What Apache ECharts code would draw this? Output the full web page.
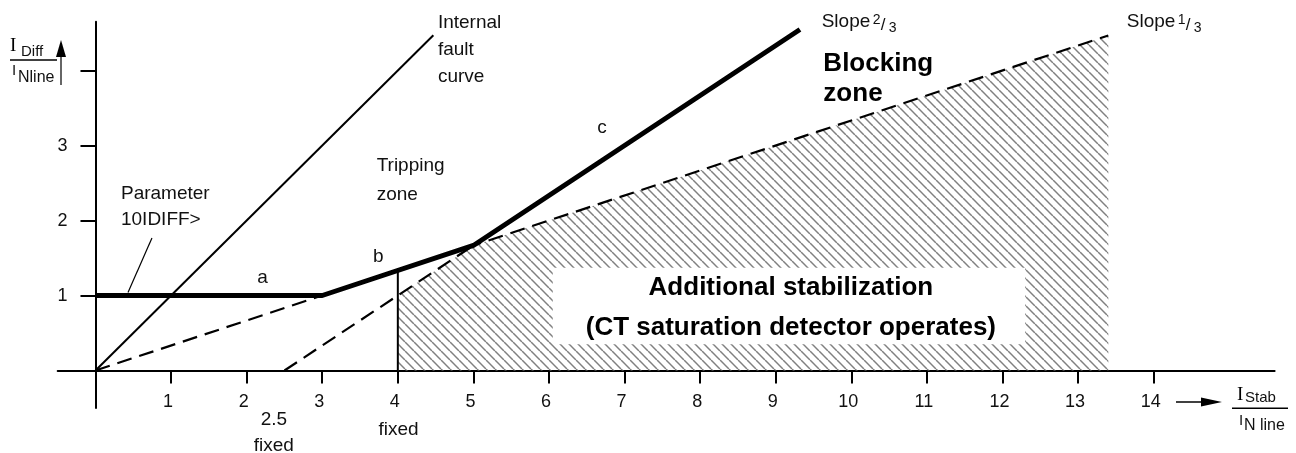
<!DOCTYPE html>
<html>
<head>
<meta charset="utf-8">
<script src="https://cdn.jsdelivr.net/npm/echarts@6/dist/echarts.min.js"></script>
<style>html,body{margin:0;padding:0;background:#fff}#c{width:1296px;height:453px}</style>
</head>
<body>
<div id="c"></div>
<script>
// ---- data ----
const xTicks = [1,2,3,4,5,6,7,8,9,10,11,12,13,14];
const yTicks = [1,2,3,4];
const yLabels = [1,2,3];
const thickX = [0, 3, 5, 9.32];
const thickY = [1, 1, 1.667, 4.547];
const faultX = [0, 4.47];
const faultY = [0, 4.47];
const dash13X = [0, 13.4];
const dash13Y = [0, 4.467];
const dash23X = [2.5, 5];
const dash23Y = [0, 1.667];
const vert4X = [4, 4];
const vert4Y = [0, 1.333];
const leaderX = [0.747, 0.43];
const leaderY = [1.767, 1.04];
const hatchX = [4, 4, 5, 13.4, 13.4];
const hatchY = [0, 1, 1.667, 4.467, 0];
const boxX = [6.05, 12.3];
const boxY = [0.35, 1.37];
const annotations = [
  {text:'Internal\nfault\ncurve', x:4.53, y:4.273, align:'left', size:19, lh:27},
  {text:'Blocking\nzone', x:9.63, y:3.887, align:'left', size:26, lh:30, bold:true},
  {text:'c', x:6.70, y:3.233, align:'center', size:19},
  {text:'b', x:3.74, y:1.513, align:'center', size:19},
  {text:'a', x:2.21, y:1.24, align:'center', size:19},
  {text:'Tripping\nzone', x:3.72, y:2.54, align:'left', size:19, lh:29},
  {text:'Parameter\n10IDIFF>', x:0.337, y:2.18, align:'left', size:19, lh:26},
  {text:'Additional stabilization', x:9.2, y:1.107, align:'center', size:26, bold:true},
  {text:'(CT saturation detector operates)', x:9.2, y:0.567, align:'center', size:26, bold:true},
  {text:'2.5\nfixed', x:2.36, y:-0.827, align:'center', size:19, lh:26},
  {text:'fixed', x:4.01, y:-0.793, align:'center', size:19},
  {slope:['2','3'], x:9.608, y:4.653},
  {slope:['1','3'], x:13.644, y:4.653}
];

const FONT = '"Liberation Sans", Arial, sans-serif';
const SERIF = '"Liberation Serif", "Times New Roman", serif';

// hatch pattern
const T = 9;
const pc = document.createElement('canvas');
pc.width = T; pc.height = T;
const pctx = pc.getContext('2d');
pctx.strokeStyle = '#808080';
pctx.lineWidth = 1.5;
for (const k of [-T, 0, T]) {
  pctx.beginPath(); pctx.moveTo(k, 0); pctx.lineTo(k + T, T); pctx.stroke();
}
const hatchPattern = {image: pc, repeat: 'repeat'};

function pairs(xs, ys){ return xs.map((x,i)=>[x, ys[i]]); }
function lineSeries(xs, ys, width, type, z){
  return {type:'line', data:pairs(xs, ys), symbol:'none', showSymbol:false, silent:true, z:z,
    lineStyle:{color:'#000', width:width, type:type, cap:'butt'}, animation:false};
}

const chart = echarts.init(document.getElementById('c'), null, {renderer:'canvas'});
chart.setOption({
  animation:false,
  backgroundColor:'#fff',
  grid:{left:57.7, top:21.75, width:1216.9, height:386.25, containLabel:false, outerBoundsMode:'none'},
  xAxis:{type:'value', min:-0.5, max:15.6,
    axisLine:{show:true, onZero:true, lineStyle:{color:'#000', width:2}},
    axisTick:{show:true, customValues:xTicks, length:13, lineStyle:{color:'#000', width:2}},
    axisLabel:{show:false},
    splitLine:{show:false}},
  yAxis:{type:'value', min:-0.5, max:4.65,
    axisLine:{show:true, onZero:true, lineStyle:{color:'#000', width:2}},
    axisTick:{show:true, customValues:yTicks, length:15, lineStyle:{color:'#000', width:2}},
    axisLabel:{show:false},
    splitLine:{show:false}},
  series:[
    {type:'custom', clip:false, silent:true, z:1, data:[[0]],
      renderItem:function(params, api){
        const pts = hatchX.map((x,i)=>api.coord([x, hatchY[i]]));
        const b0 = api.coord([boxX[0], boxY[1]]);
        const b1 = api.coord([boxX[1], boxY[0]]);
        return {type:'group', children:[
          {type:'polygon', shape:{points:pts}, style:{fill:hatchPattern, stroke:null}},
          {type:'rect', shape:{x:b0[0], y:b0[1], width:b1[0]-b0[0], height:b1[1]-b0[1]}, style:{fill:'#fff'}}
        ]};
      }},
    lineSeries(dash13X, dash13Y, 2.2, [15,8], 2),
    lineSeries(dash23X, dash23Y, 2.2, [15,8], 2),
    lineSeries(faultX, faultY, 2, 'solid', 2),
    lineSeries(vert4X, vert4Y, 2, 'solid', 2),
    lineSeries(leaderX, leaderY, 1.2, 'solid', 2),
    lineSeries(thickX, thickY, 5, 'solid', 3),
    // x tick labels
    {type:'custom', clip:false, silent:true, z:4, data:xTicks.map(v=>[v, 0]),
      renderItem:function(params, api){
        const p = api.coord([api.value(0), api.value(1)]);
        return {type:'text', style:{text:String(api.value(0)), x:p[0]-3, y:p[1]+32, fontSize:18,
          fontFamily:FONT, fill:'#111', align:'center', verticalAlign:'middle'}};
      }},
    // y tick labels
    {type:'custom', clip:false, silent:true, z:4, data:yLabels.map(v=>[0, v]),
      renderItem:function(params, api){
        const p = api.coord([api.value(0), api.value(1)]);
        return {type:'text', style:{text:String(api.value(1)), x:p[0]-28, y:p[1]+1, fontSize:18,
          fontFamily:FONT, fill:'#111', align:'right', verticalAlign:'middle'}};
      }},
    {type:'custom', clip:false, silent:true, z:4, data:annotations.map(a=>[a.x, a.y]),
      renderItem:function(params, api){
        const a = annotations[params.dataIndex];
        const p = api.coord([api.value(0), api.value(1)]);
        if (a.slope) {
          const mk = (t, dx, dy, size) => ({type:'text', style:{text:t, x:p[0]+dx, y:p[1]+dy,
            fontSize:size, fontFamily:FONT, fill:'#111', align:'left', verticalAlign:'middle'}});
          return {type:'group', children:[
            mk('Slope', 0, 0, 19), mk(a.slope[0], 51, -1, 14), mk('/', 59, 4, 17), mk(a.slope[1], 67, 7, 14)
          ]};
        }
        return {type:'text', style:{text:a.text, x:p[0], y:p[1], fontSize:a.size, fontFamily:FONT,
          fontWeight:a.bold?'bold':'normal', fill:a.bold?'#000':'#111', align:a.align, verticalAlign:'middle',
          lineHeight:a.lh || a.size*1.3}};
      }}
  ],
  graphic:[
    // y-axis title
    {type:'text', left:10, top:37, style:{text:'I', fontSize:19, fontFamily:SERIF, fill:'#000'}},
    {type:'text', left:21, top:44, style:{text:'Diff', fontSize:15, fontFamily:FONT, fill:'#111'}},
    {type:'line', shape:{x1:10, y1:60, x2:57, y2:60}, style:{stroke:'#000', lineWidth:1.5}},
    {type:'text', left:12, top:63, style:{text:'I', fontSize:15, fontFamily:FONT, fill:'#111'}},
    {type:'text', left:18, top:70, style:{text:'Nline', fontSize:16, fontFamily:FONT, fill:'#111'}},
    {type:'line', shape:{x1:61, y1:85, x2:61, y2:55}, style:{stroke:'#333', lineWidth:1.5}},
    {type:'polygon', shape:{points:[[56,57],[66,57],[61,40]]}, style:{fill:'#000'}},
    // x-axis title
    {type:'line', shape:{x1:1176, y1:402, x2:1205, y2:402}, style:{stroke:'#000', lineWidth:1.5}},
    {type:'polygon', shape:{points:[[1201,397.5],[1201,406.5],[1222,402]]}, style:{fill:'#000'}},
    {type:'text', left:1237, top:386, style:{text:'I', fontSize:19, fontFamily:SERIF, fill:'#000'}},
    {type:'text', left:1245, top:390, style:{text:'Stab', fontSize:15, fontFamily:FONT, fill:'#111'}},
    {type:'line', shape:{x1:1232, y1:408.3, x2:1288, y2:408.3}, style:{stroke:'#000', lineWidth:1.5}},
    {type:'text', left:1239, top:413, style:{text:'I', fontSize:15, fontFamily:FONT, fill:'#111'}},
    {type:'text', left:1244, top:418, style:{text:'N line', fontSize:16, fontFamily:FONT, fill:'#111'}}
  ]
});
</script>
</body>
</html>
